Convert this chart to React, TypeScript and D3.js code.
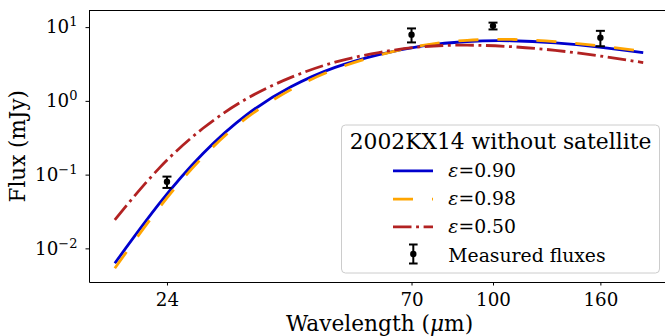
import React, { useRef, useEffect } from 'react';
import * as d3 from 'd3';

// model curves (wavelength in um, flux in mJy)
const wavelengths = [19.1, 23.2, 28.1, 34.0, 41.3, 50.1, 60.7, 73.6, 89.3, 108.3, 131.3, 159.2, 193];
const flux090 = [0.00628, 0.0403, 0.193, 0.646, 1.55, 2.84, 4.24, 5.56, 6.38, 6.53, 6.12, 5.37, 4.52];
const flux098 = [0.00537, 0.0356, 0.174, 0.586, 1.42, 2.69, 4.16, 5.65, 6.62, 6.81, 6.35, 5.57, 4.69];
const flux050 = [0.0244, 0.1225, 0.425, 1.067, 2.08, 3.35, 4.52, 5.43, 5.69, 5.43, 4.84, 4.07, 3.31];

// measured fluxes
const bands = [24, 70, 100, 160];
const measured = [0.08, 7.9, 10.4, 7.2];
const errors = [0.014, 1.7, 1.1, 1.7];

const xTicks = [24, 70, 100, 160];
const yTicks = [0.01, 0.1, 1, 10];
const legendTitle = '2002KX14 without satellite';
const epsLabels = ['0.90', '0.98', '0.50'];

const FONT = '"DejaVu Serif", serif';

const App = () => {
  const svgRef = useRef<SVGSVGElement>(null);
  const W = 665;
  const H = 336;
  const left = 89, right = 670, top = 10.5, bottom = 282;

  useEffect(() => {
    const svg = d3.select(svgRef.current);
    svg.selectAll('*').remove();

    const x = d3.scaleLog().domain([17.06, 217]).range([left, right]);
    const y = d3.scaleLog().domain([0.0035, 16.8]).range([bottom, top]);

    const series = [
      { ys: flux090, color: '#0000cd', dash: null },
      { ys: flux098, color: '#ffa500', dash: '20 19' },
      { ys: flux050, color: '#b22222', dash: '18.5 4.6 2.9 4.6' },
    ];

    const line = d3.line<[number, number]>()
      .x(d => x(d[0]))
      .y(d => y(d[1]))
      .curve(d3.curveNatural);

    series.forEach(s => {
      svg.append('path')
        .datum(wavelengths.map((w, i) => [w, s.ys[i]] as [number, number]))
        .attr('d', line)
        .attr('fill', 'none')
        .attr('stroke', s.color)
        .attr('stroke-width', 2.8)
        .attr('stroke-dasharray', s.dash);
    });

    // error bars
    const eb = svg.append('g');
    bands.forEach((b, i) => {
      const cx = x(b);
      const y0 = y(measured[i] - errors[i]);
      const y1 = y(measured[i] + errors[i]);
      eb.append('line').attr('x1', cx).attr('x2', cx).attr('y1', y0).attr('y2', y1)
        .attr('stroke', 'black').attr('stroke-width', 2);
      [y0, y1].forEach(yy => {
        eb.append('line').attr('x1', cx - 4.5).attr('x2', cx + 4.5).attr('y1', yy).attr('y2', yy)
          .attr('stroke', 'black').attr('stroke-width', 2);
      });
      eb.append('circle').attr('cx', cx).attr('cy', y(measured[i])).attr('r', 3.2).attr('fill', 'black');
    });

    // axes
    const xAxis = svg.append('g')
      .attr('transform', `translate(0,${bottom})`)
      .call(d3.axisBottom(x).tickValues(xTicks).tickFormat(d3.format('d')).tickSize(3.5).tickSizeOuter(0).tickPadding(8));
    const yAxis = svg.append('g')
      .attr('transform', `translate(${left},0)`)
      .call(d3.axisLeft(y).tickValues(yTicks).tickSize(3.5).tickSizeOuter(0).tickPadding(8));

    [xAxis, yAxis].forEach(a => {
      a.select('.domain').attr('stroke', 'black').attr('stroke-width', 1);
      a.selectAll('.tick line').attr('stroke', 'black').attr('stroke-width', 1);
      a.selectAll('.tick text').attr('font-family', FONT).attr('font-size', 18.3).attr('fill', 'black');
    });

    yAxis.selectAll<SVGTextElement, number>('.tick text').each(function (d) {
      const t = d3.select(this);
      const k = Math.round(Math.log10(d));
      t.text(null);
      t.append('tspan').text('10');
      t.append('tspan').attr('font-size', 13).attr('dy', -7).text(String(k).replace('-', '\u2212'));
    });

    // top and right spines
    svg.append('line').attr('x1', left).attr('x2', right).attr('y1', top).attr('y2', top)
      .attr('stroke', 'black').attr('stroke-width', 1);
    svg.append('line').attr('x1', right).attr('x2', right).attr('y1', top).attr('y2', bottom)
      .attr('stroke', 'black').attr('stroke-width', 1);

    // axis labels
    const xl = svg.append('text')
      .attr('x', (left + right) / 2).attr('y', 331)
      .attr('text-anchor', 'middle')
      .attr('font-family', FONT).attr('font-size', 21.7);
    xl.append('tspan').text('Wavelength (');
    xl.append('tspan').attr('font-style', 'italic').text('\u03bc');
    xl.append('tspan').text('m)');

    svg.append('text')
      .attr('transform', `translate(25,${(top + bottom) / 2}) rotate(-90)`)
      .attr('text-anchor', 'middle')
      .attr('font-family', FONT).attr('font-size', 21.5)
      .text('Flux (mJy)');

    // legend
    const lg = svg.append('g');
    lg.append('rect')
      .attr('x', 341.5).attr('y', 125).attr('width', 318).attr('height', 148).attr('rx', 4)
      .attr('fill', 'white').attr('fill-opacity', 0.8)
      .attr('stroke', '#cccccc').attr('stroke-width', 1);
    lg.append('text')
      .attr('x', 500.5).attr('y', 149.3).attr('text-anchor', 'middle')
      .attr('font-family', FONT).attr('font-size', 21.8)
      .text(legendTitle);

    const rowBase = [176.7, 205, 232.7];
    series.forEach((s, i) => {
      const ly = rowBase[i] - 5.8;
      lg.append('line').attr('x1', 393).attr('x2', 433).attr('y1', ly).attr('y2', ly)
        .attr('stroke', s.color).attr('stroke-width', 2.8).attr('stroke-dasharray', s.dash);
      const t = lg.append('text').attr('x', 448.3).attr('y', rowBase[i])
        .attr('font-family', FONT).attr('font-size', 18.8);
      t.append('tspan').attr('font-style', 'italic').text('\u03b5');
      t.append('tspan').text('=' + epsLabels[i]);
    });

    const ey = 254;
    lg.append('line').attr('x1', 413.3).attr('x2', 413.3).attr('y1', ey - 9.5).attr('y2', ey + 9.5)
      .attr('stroke', 'black').attr('stroke-width', 2);
    [ey - 9.5, ey + 9.5].forEach(yy => {
      lg.append('line').attr('x1', 409).attr('x2', 417.6).attr('y1', yy).attr('y2', yy)
        .attr('stroke', 'black').attr('stroke-width', 2);
    });
    lg.append('circle').attr('cx', 413.3).attr('cy', ey).attr('r', 3.2).attr('fill', 'black');
    lg.append('text').attr('x', 448.3).attr('y', 261.7)
      .attr('font-family', FONT).attr('font-size', 18.8)
      .text('Measured fluxes');
  }, []);

  return (
    <svg
      ref={svgRef}
      width={W}
      height={H}
      style={{ position: 'absolute', left: 0, top: 0, background: 'white' }}
    />
  );
};

export default App;
